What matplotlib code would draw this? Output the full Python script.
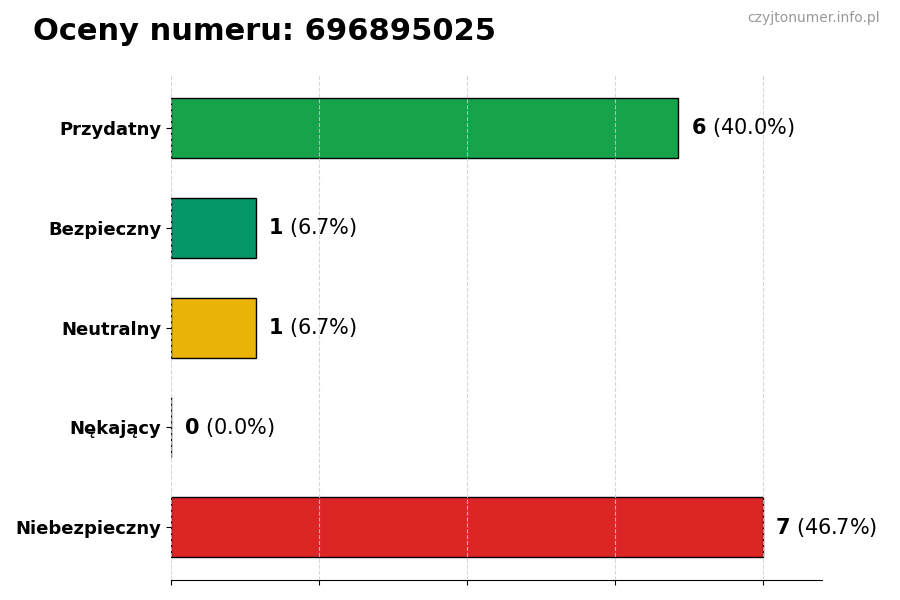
import matplotlib
matplotlib.use('Agg')
import matplotlib.pyplot as plt

categories = ['Przydatny', 'Bezpieczny', 'Neutralny', 'Nękający', 'Niebezpieczny']
counts = [6, 1, 1, 0, 7]
colors = ['#16a34a', '#059669', '#eab308', '#6b7280', '#dc2626']
phone = '696895025'

total = sum(counts)
ypos = list(range(len(categories)))[::-1]

fig = plt.figure(figsize=(9, 6), dpi=100)
ax = fig.add_axes([0.19, 0.033, 0.723, 0.842])

ax.barh(ypos, counts, height=0.6, color=colors, edgecolor='black', linewidth=1)
xmax = max(counts) * 1.1
ax.set_xlim(0, xmax)
ax.set_xticks([xmax / 4.4 * i for i in range(5)])
ax.set_xticklabels([])
ax.set_yticks(ypos)
ax.set_yticklabels(categories, fontsize=13, fontweight='bold')
ax.grid(axis='x', linestyle='--', color='#cccccc', alpha=0.8)
ax.set_axisbelow(False)
for side in ['top', 'right', 'left']:
    ax.spines[side].set_visible(False)

# count in bold, share in plain text
for y, c in zip(ypos, counts):
    pct = c / total * 100
    ax.text(c + 0.15, y, '$\\bf{%d}$ (%.1f%%)' % (c, pct), va='center',
            fontsize=15)

fig.text(0.037, 0.948, 'Oceny numeru: ' + phone, fontsize=22,
         fontweight='bold', va='center', ha='left')
fig.text(0.978, 0.97, 'czyjtonumer.info.pl', fontsize=10, color='#999999',
         ha='right', va='center')

fig.savefig('out.png', dpi=100)
